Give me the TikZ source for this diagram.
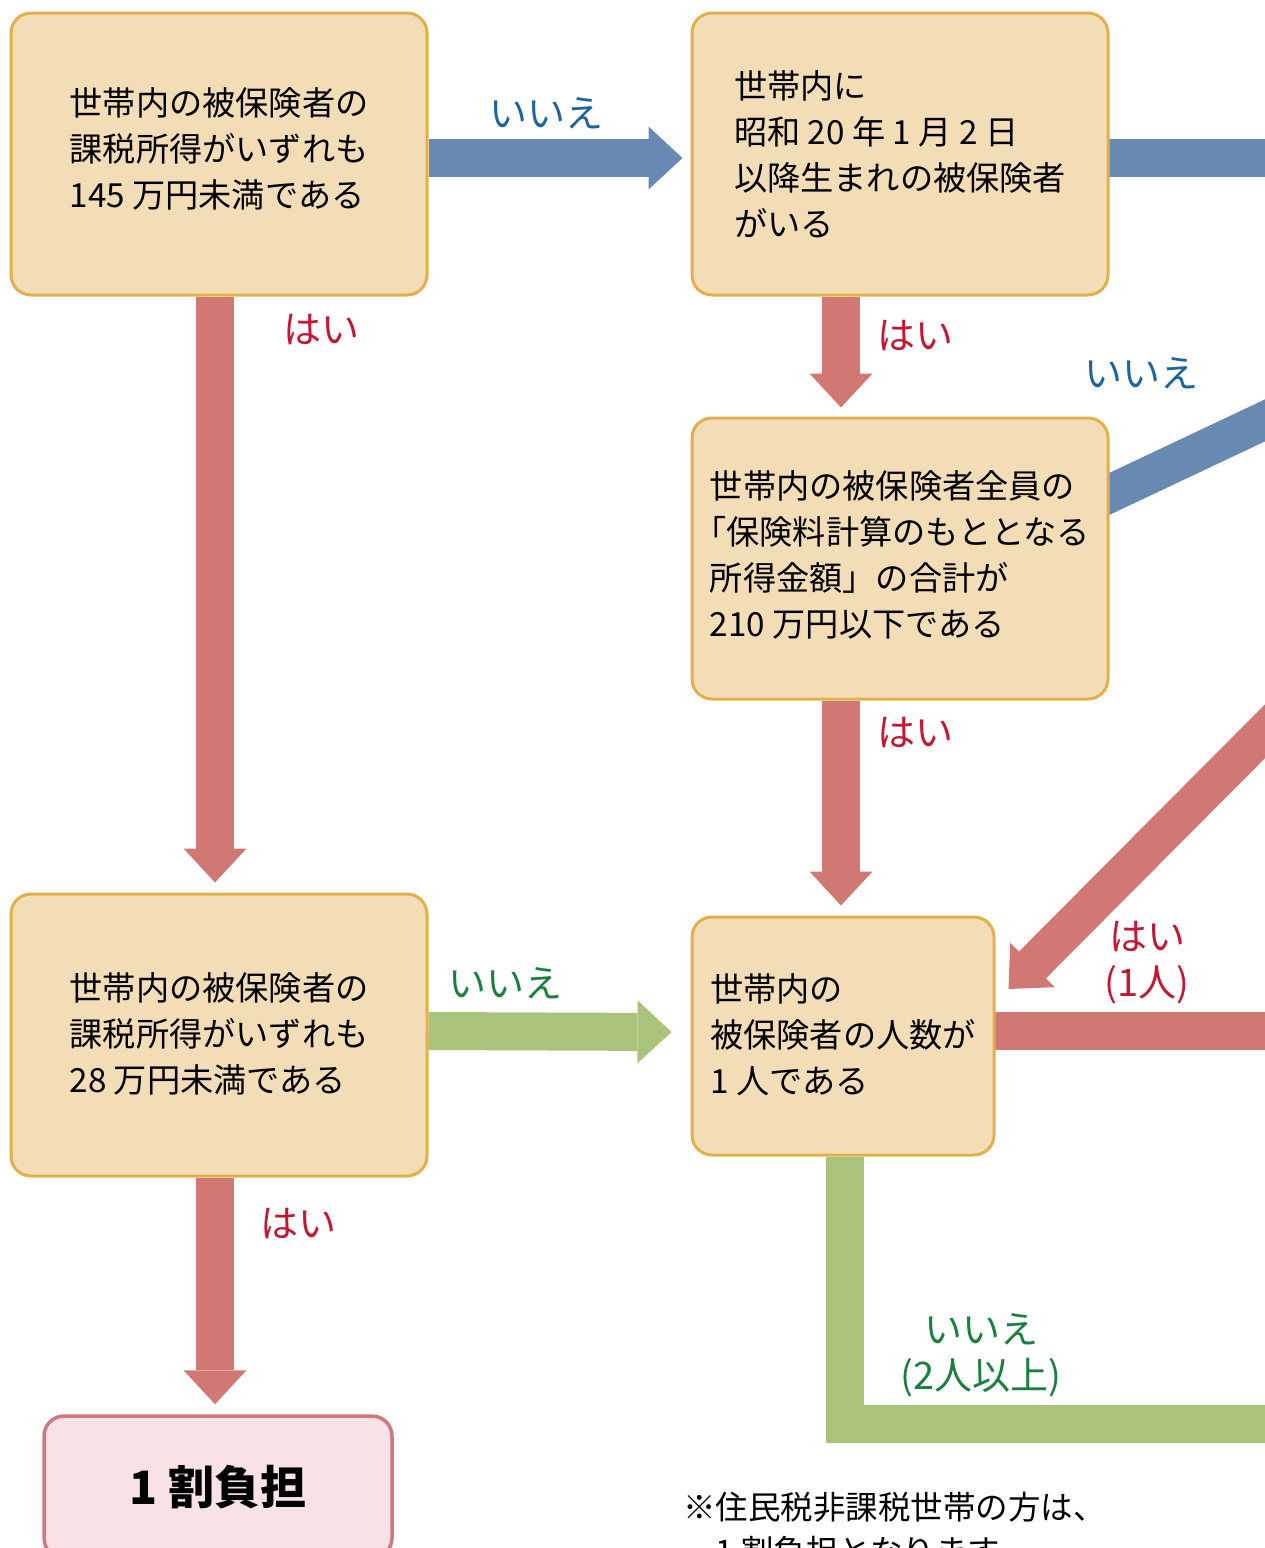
\documentclass[tikz,border=0pt]{standalone}
\usepackage{fontspec}
\setmainfont{Noto Sans CJK JP}
\usetikzlibrary{arrows.meta,backgrounds}
\definecolor{boxfill}{RGB}{243,221,183}
\definecolor{boxline}{RGB}{226,176,74}
\definecolor{arrred}{RGB}{209,120,114}
\definecolor{arrblue}{RGB}{104,138,178}
\definecolor{arrgreen}{RGB}{169,196,122}
\definecolor{txtred}{RGB}{197,22,50}
\definecolor{txtblue}{RGB}{28,100,160}
\definecolor{txtgreen}{RGB}{26,128,62}
\definecolor{endfill}{RGB}{249,226,230}
\definecolor{endline}{RGB}{207,120,128}
\newcommand{\upby}[1]{\rule[-#1]{0pt}{0pt}}
\begin{document}
\begin{tikzpicture}[x=1pt,y=-1pt,
  qbox/.style={draw=boxline, fill=boxfill, line width=3pt, rounded corners=20pt,
    inner sep=0pt, align=left, font=\fontsize{33.2}{46}\selectfont},
  endbox/.style={draw=endline, fill=endfill, line width=3.5pt, rounded corners=20pt,
    inner sep=0pt, font=\fontsize{46}{50}\selectfont\bfseries},
  flow/.style={line width=38pt, -{Triangle[length=34pt,width=63pt,line width=0pt]}},
  band/.style={line width=38pt, line join=miter},
  lab/.style={font=\fontsize{38}{46}\selectfont, align=center, inner sep=0pt},
  note/.style={font=\fontsize{32.5}{44}\selectfont, inner sep=0pt, anchor=west}]
\useasboundingbox (0,0) rectangle (1265,1548);
\clip (0,0) rectangle (1265,1548);

% boxes
\node[qbox, minimum width=416pt, minimum height=282pt] (b1) at (219,154)
  {世帯内の被保険者の\\課税所得がいずれも\\145 万円未満である\upby{12pt}};
\node[qbox, minimum width=416pt, minimum height=282pt] (b2) at (900,154)
  {世帯内に\\昭和 20 年 1 月 2 日\\以降生まれの被保険者\\がいる};
\node[qbox, minimum width=416pt, minimum height=281pt] (b3) at (900,558.5)
  {世帯内の被保険者全員の\\\hspace*{-0.5em}「保険料計算のもととなる\\所得金額」の合計が\\210 万円以下である\upby{10pt}};
\node[qbox, minimum width=416pt, minimum height=282pt] (b4) at (219,1035)
  {世帯内の被保険者の\\課税所得がいずれも\\28 万円未満である\upby{4pt}};
\node[qbox, minimum width=302pt, minimum height=238pt] (b5) at (843,1036)
  {世帯内の\\被保険者の人数が\\1 人である\upby{4pt}};
\node[endbox, minimum width=348pt, minimum height=142pt] (b6) at (218,1487)
  {1 割負担};

% free ends outside the picture
\coordinate (offA) at (1320,158);
\coordinate (offB) at (1320,394.4);
\coordinate (offC) at (1320,676);
\coordinate (offD) at (1320,1031);
\coordinate (offE) at (1320,1424);

\begin{scope}[on background layer]
\draw[flow, arrblue] ([yshift=-4pt]b1.east) -- ([xshift=-8pt,yshift=-4pt]b2.west);
\draw[band, arrblue] ([xshift=-5pt,yshift=-4pt]b2.east) -- (offA);
\draw[flow, arrred] ([xshift=-4pt]b1.south) -- ([xshift=-4pt,yshift=10pt]b4.north);
\draw[flow, arrred] ([xshift=-59pt]b2.south) -- ([xshift=-59pt,yshift=9pt]b3.north);
\draw[band, arrblue] ([xshift=-30pt,yshift=50.5pt]b3.east) -- (offB);
\draw[flow, arrred] ([xshift=-59pt]b3.south) -- ([xshift=-2pt,yshift=10pt]b5.north);
\draw[flow, arrred] (offC) -- ([xshift=13pt,yshift=47pt]b5.east);
\draw[band, arrred] ([xshift=-5pt,yshift=5pt]b5.east) -- (offD);
\draw[flow, arrgreen] ([yshift=4pt]b4.east) -- ([xshift=-19pt,yshift=4pt]b5.west);
\draw[band, arrgreen] ([xshift=2pt]b5.south) |- (offE);
\draw[flow, arrred] ([xshift=-4pt]b4.south) -- ([xshift=-3pt,yshift=10pt]b6.north);
\end{scope}

% labels
\node[lab, text=txtblue] (l1) at (546,113) {いいえ};
\node[lab, text=txtred] (l2) at (321,330) {はい};
\node[lab, text=txtred] (l3) at (915,336) {はい};
\node[lab, text=txtblue] (l4) at (1141,373) {いいえ};
\node[lab, text=txtred] (l5) at (915,733) {はい};
\node[lab, text=txtred] (l6) at (1147,963) {はい\\(1人)};
\node[lab, text=txtgreen] (l7) at (505,983) {いいえ};
\node[lab, text=txtred] (l8) at (298,1224) {はい};
\node[lab, text=txtgreen] (l9) at (981,1355) {いいえ\\(2人以上)};

% note
\node[note] (n1) at (683,1507) {※住民税非課税世帯の方は、};
\node[note] (n2) at (683,1551) {　1 割負担となります。};
\end{tikzpicture}
\end{document}
